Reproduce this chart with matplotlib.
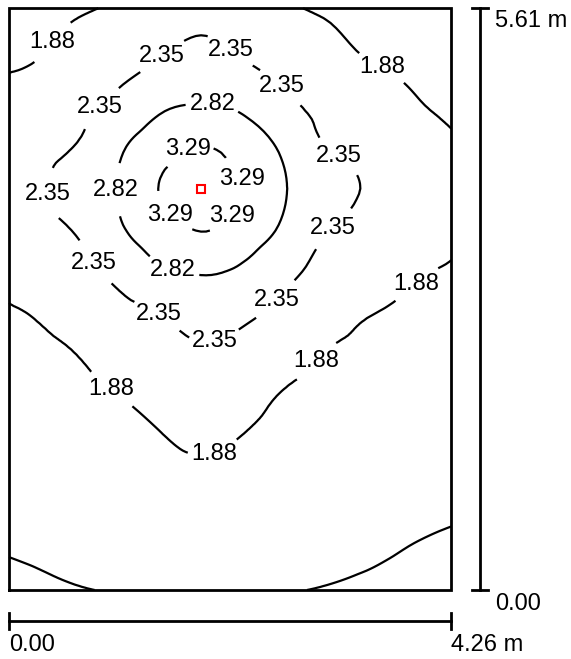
import numpy as np
import matplotlib
matplotlib.use("Agg")
import matplotlib.pyplot as plt
from matplotlib.tri import Triangulation, UniformTriRefiner

# ---------------- data ----------------
room_w = 4.26
room_h = 5.61

grid_x = [0.0, 0.25, 0.65, 1.05, 1.45, 1.85, 2.25, 2.65, 3.05, 3.45, 3.85, 4.26]
grid_y = [5.61, 5.07, 4.67, 4.27, 3.87, 3.47, 3.07, 2.67, 2.27, 1.87, 1.47, 1.07, 0.67, 0.0]

row_561 = [1.75, 1.79, 1.84, 1.93, 2.08, 2.17, 2.08, 1.93, 1.84, 1.79, 1.72, 1.65]
row_507 = [1.855, 1.89, 2.07, 2.22, 2.39, 2.52, 2.39, 2.22, 2.07, 1.90, 1.83, 1.76]
row_467 = [1.97, 2.08, 2.24, 2.46, 2.74, 2.84, 2.74, 2.46, 2.24, 2.09, 1.93, 1.83]
row_427 = [2.08, 2.20, 2.37, 2.74, 3.11, 3.30, 3.11, 2.74, 2.36, 2.22, 2.07, 1.92]
row_387 = [2.14, 2.27, 2.54, 2.84, 3.30, 3.38, 3.30, 2.85, 2.56, 2.31, 2.14, 1.96]
row_347 = [2.08, 2.20, 2.38, 2.74, 3.11, 3.30, 3.11, 2.74, 2.38, 2.22, 2.07, 1.92]
row_307 = [1.96, 2.07, 2.24, 2.46, 2.74, 2.86, 2.74, 2.46, 2.24, 2.09, 1.93, 1.86]
row_267 = [1.855, 1.90, 2.06, 2.23, 2.36, 2.52, 2.44, 2.25, 2.06, 1.90, 1.83, 1.76]
row_227 = [1.77, 1.81, 1.88, 2.04, 2.20, 2.29, 2.19, 2.03, 1.87, 1.81, 1.75, 1.68]
row_187 = [1.70, 1.745, 1.80, 1.875, 2.02, 2.12, 2.01, 1.86, 1.80, 1.745, 1.68, 1.62]
row_147 = [1.635, 1.67, 1.73, 1.79, 1.86, 1.95, 1.87, 1.79, 1.72, 1.67, 1.61, 1.54]
row_107 = [1.56, 1.59, 1.645, 1.70, 1.75, 1.80, 1.75, 1.70, 1.64, 1.59, 1.54, 1.48]
row_067 = [1.48, 1.50, 1.55, 1.60, 1.64, 1.67, 1.64, 1.60, 1.55, 1.51, 1.46, 1.42]
row_000 = [1.35, 1.37, 1.40, 1.42, 1.44, 1.45, 1.44, 1.42, 1.40, 1.37, 1.33, 1.30]

unlabeled_levels = [1.41]
label_levels = [1.88, 2.35, 2.82, 3.29]

lum_x = [1.85]
lum_y = [3.87]

x_start_text = "0.00"
x_end_text = "4.26 m"
y_start_text = "0.00"
y_end_text = "5.61 m"

# ---------------- figure ----------------
plt.rcParams["font.family"] = ["Liberation Sans", "DejaVu Sans"]
FS = 17

fig = plt.figure(figsize=(5.71, 6.59), dpi=100)
ax = fig.add_axes([0, 0, 1, 1])
ax.set_xlim(-9 / 103.8, 562 / 103.8)
ax.set_ylim(-69 / 103.7, 590 / 103.7)
ax.axis("off")

Z = np.array([row_561, row_507, row_467, row_427, row_387, row_347, row_307,
              row_267, row_227, row_187, row_147, row_107, row_067, row_000])
X, Y = np.meshgrid(grid_x, grid_y)
tri = Triangulation(X.ravel(), Y.ravel())
refiner = UniformTriRefiner(tri)
tri_r, z_r = refiner.refine_field(Z.ravel(), subdiv=3)

ax.tricontour(tri_r, z_r, levels=unlabeled_levels, colors="black", linewidths=1.6)
cs = ax.tricontour(tri_r, z_r, levels=label_levels, colors="black", linewidths=1.6)

label_pos = [
    (0.44, 5.27), (3.62, 5.09), (3.89, 2.99), (3.00, 2.17), (1.02, 1.98), (1.98, 1.30),
    (1.44, 5.19), (2.19, 5.28), (2.59, 4.82), (3.14, 4.13), (3.09, 3.52), (2.53, 2.84),
    (1.98, 2.41), (1.38, 2.57), (0.83, 3.16), (0.33, 3.81), (0.90, 4.63),
    (1.96, 4.68), (1.04, 3.86), (1.58, 3.09),
    (1.74, 4.21), (2.19, 3.95), (1.52, 3.59), (2.21, 3.55),
]
texts = ax.clabel(cs, fmt="%.2f", fontsize=FS,
                  inline=True, inline_spacing=4, manual=label_pos)
for t in texts:
    t.set_rotation(0)
    t.set_color("black")

# room outline
ax.plot([0, room_w, room_w, 0, 0], [0, 0, room_h, room_h, 0],
        color="black", lw=2.0, solid_joinstyle="miter", zorder=3)

# luminaire marker
ax.plot(lum_x, lum_y, marker="s", ms=5.5, mfc="white", mec="red", mew=1.5,
        ls="none", zorder=4)

# vertical dimension line
vx = 471 / 103.8
tick = 8 / 103.8
ax.plot([vx, vx], [0, room_h], color="black", lw=2.0)
ax.plot([vx - tick, vx + tick], [room_h, room_h], color="black", lw=2.0)
ax.plot([vx - tick, vx + tick], [0, 0], color="black", lw=2.0)
ax.text(486 / 103.8, (590 - 21) / 103.7, y_end_text, fontsize=FS,
        ha="left", va="center")
ax.text(486 / 103.8, (590 - 604) / 103.7, y_start_text, fontsize=FS,
        ha="left", va="center")

# horizontal dimension line
hy = (590 - 621) / 103.7
tk = 8 / 103.7
ax.plot([0, room_w], [hy, hy], color="black", lw=2.0)
ax.plot([0, 0], [hy - tk, hy + tk], color="black", lw=2.0)
ax.plot([room_w, room_w], [hy - tk, hy + tk], color="black", lw=2.0)
ax.text(0, (590 - 645) / 103.7, x_start_text, fontsize=FS, ha="left", va="center")
ax.text(room_w, (590 - 645) / 103.7, x_end_text, fontsize=FS, ha="left", va="center")

fig.savefig("out.png", dpi=100, facecolor="white")
